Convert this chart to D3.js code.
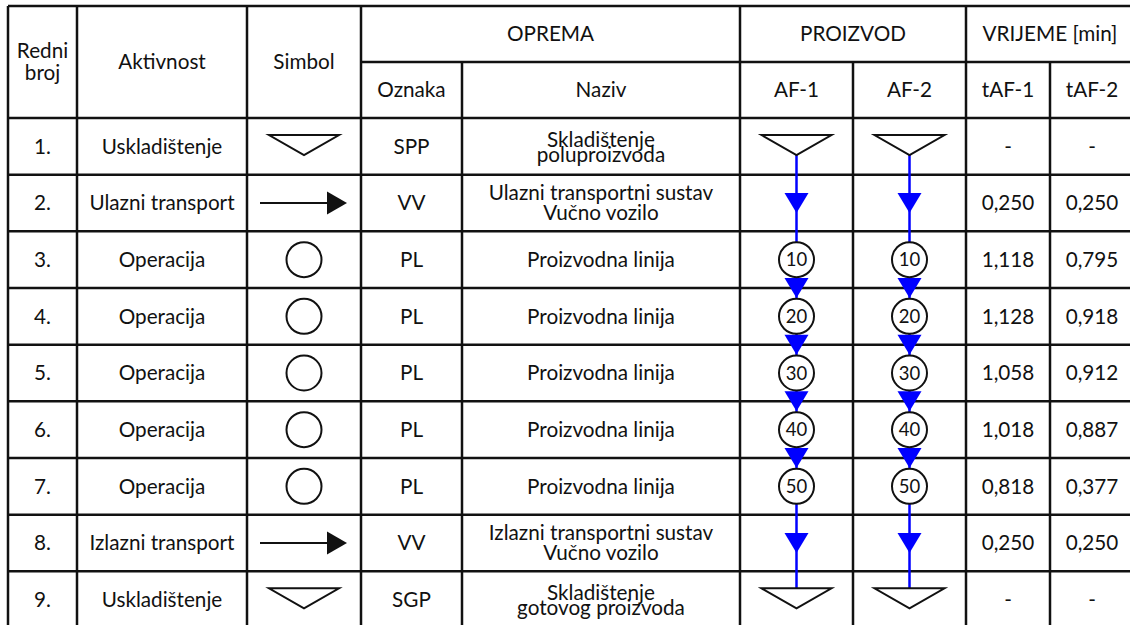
<!DOCTYPE html>
<html><head><meta charset="utf-8">
<script src="https://cdn.jsdelivr.net/npm/d3@7"></script>
<style>html,body{margin:0;padding:0;background:#fff;} svg{display:block;}</style>
</head><body>
<svg id="c" width="1130" height="625"></svg>
<script>
// ---- data ----
const rowNumbers = ["1.","2.","3.","4.","5.","6.","7.","8.","9."];
const activities = ["Uskladištenje","Ulazni transport","Operacija","Operacija","Operacija","Operacija","Operacija","Izlazni transport","Uskladištenje"];
const symbols = ["storage","transport","operation","operation","operation","operation","operation","transport","storage"];
const codes = ["SPP","VV","PL","PL","PL","PL","PL","VV","SGP"];
const names = [["Skladištenje","poluproizvoda"],["Ulazni transportni sustav","Vučno vozilo"],["Proizvodna linija"],["Proizvodna linija"],["Proizvodna linija"],["Proizvodna linija"],["Proizvodna linija"],["Izlazni transportni sustav","Vučno vozilo"],["Skladištenje","gotovog proizvoda"]];
const operationsAF1 = ["","","10","20","30","40","50","",""];
const operationsAF2 = ["","","10","20","30","40","50","",""];
const timeAF1 = ["-","0,250","1,118","1,128","1,058","1,018","0,818","0,250","-"];
const timeAF2 = ["-","0,250","0,795","0,918","0,912","0,887","0,377","0,250","-"];
const headerTop = ["Redni broj","Aktivnost","Simbol","OPREMA","PROIZVOD","VRIJEME [min]"];
const headerSub = ["Oznaka","Naziv","AF-1","AF-2","tAF-1","tAF-2"];

// ---- layout ----
const svg = d3.select("#c");
const FONT = "Lato, 'Noto Sans', sans-serif";
const FS = 20.7;
const TXT = "#111";
const LINE = "#111";
const BLUE = "#0000ff";
const colEdges = [8, 77, 247, 361, 462, 740, 853, 966, 1050, 1140];
const cx = i => (colEdges[i] + colEdges[i+1]) / 2;
const y = d3.scaleLinear().domain([0, 9]).range([118, 628]);
const yc = i => (y(i) + y(i+1)) / 2;
const hTop = 6, hMid = 62, hBot = 118;
const CAP = 7.4; // half cap height shift

const gLines = svg.append("g").attr("stroke", LINE).attr("stroke-width", 2.5).attr("fill", "none");
gLines.append("line").attr("x1", colEdges[0]).attr("x2", 1140).attr("y1", hTop).attr("y2", hTop);
gLines.append("line").attr("x1", colEdges[3]).attr("x2", 1140).attr("y1", hMid).attr("y2", hMid);
d3.range(0, 9).forEach(i => {
  gLines.append("line").attr("x1", colEdges[0]).attr("x2", 1140).attr("y1", y(i)).attr("y2", y(i));
});
const fullCols = [0,1,2,3,5,7];
colEdges.slice(0, 9).forEach((x, i) => {
  const top = fullCols.includes(i) ? hTop : hMid;
  gLines.append("line").attr("x1", x).attr("x2", x).attr("y1", top).attr("y2", 630);
});

const gT = svg.append("g").attr("font-family", FONT).attr("font-size", FS).attr("fill", TXT).attr("text-anchor", "middle");
function txt(x, yy, s) {
  gT.append("text").attr("x", x).attr("y", yy + CAP).text(s);
}
// header
txt(cx(0), 51, "Redni"); txt(cx(0), 73, "broj");
txt(cx(1), 62, headerTop[1]);
txt(cx(2), 62, headerTop[2]);
txt((colEdges[3]+colEdges[5])/2, 34, headerTop[3]);
txt((colEdges[5]+colEdges[7])/2, 34, headerTop[4]);
txt(1050, 34, headerTop[5]);
headerSub.forEach((s, k) => txt(cx(3+k) + (k === 5 ? -3 : 0), 90, s));

// body text
rowNumbers.forEach((s, i) => txt(cx(0), yc(i), s));
activities.forEach((s, i) => txt(cx(1), yc(i), s));
codes.forEach((s, i) => txt(cx(3), yc(i), s));
names.forEach((arr, i) => {
  if (arr.length === 1) txt(cx(4), yc(i), arr[0]);
  else {
    const d = symbols[i] === "storage" ? 7.5 : 10;
    const off = symbols[i] === "storage" ? 0.5 : 0;
    txt(cx(4), yc(i) - d + off, arr[0]);
    txt(cx(4), yc(i) + d + off, arr[1]);
  }
});
timeAF1.forEach((s, i) => txt(cx(7), yc(i), s));
timeAF2.forEach((s, i) => txt(cx(8) - 3, yc(i), s));

// symbol column
const gS = svg.append("g");
function storage(g, x, rowTop) {
  g.append("path").attr("d", `M${x-35},${rowTop+17}L${x+35},${rowTop+17}L${x},${rowTop+37}Z`)
    .attr("fill", "#fff").attr("stroke", LINE).attr("stroke-width", 2);
}
symbols.forEach((s, i) => {
  const x = cx(2), c = yc(i);
  if (s === "storage") storage(gS, x, y(i));
  else if (s === "transport") {
    gS.append("line").attr("x1", x-44).attr("x2", x+25).attr("y1", c).attr("y2", c).attr("stroke", LINE).attr("stroke-width", 2);
    gS.append("path").attr("d", `M${x+23},${c-11.5}L${x+43},${c}L${x+23},${c+11.5}Z`).attr("fill", LINE);
  } else {
    gS.append("circle").attr("cx", x).attr("cy", c).attr("r", 17.5).attr("fill", "none").attr("stroke", LINE).attr("stroke-width", 2);
  }
});

// product flow columns
function flow(colIdx, ops) {
  const g = svg.append("g");
  const x = cx(colIdx);
  const first = 0, last = symbols.length - 1;
  g.append("line").attr("x1", x).attr("x2", x).attr("y1", y(first) + 37).attr("y2", y(last) + 17)
    .attr("stroke", BLUE).attr("stroke-width", 2.5);
  function head(cy) {
    g.append("path").attr("d", `M${x-12},${cy-10}L${x+12},${cy-10}L${x},${cy+10}Z`).attr("fill", BLUE);
  }
  symbols.forEach((s, i) => {
    if (s === "transport") head(yc(i));
    if (s === "operation" && i > 0 && symbols[i-1] === "operation") head(y(i));
  });
  symbols.forEach((s, i) => {
    if (s === "storage") storage(g, x, y(i));
    if (s === "operation") {
      g.append("circle").attr("cx", x).attr("cy", yc(i)).attr("r", 17.5).attr("fill", "#fff").attr("stroke", LINE).attr("stroke-width", 2);
      g.append("text").attr("x", x).attr("y", yc(i) + 6.7).attr("text-anchor", "middle")
        .attr("font-family", FONT).attr("font-size", 18.5).attr("fill", TXT).text(ops[i]);
    }
  });
}
flow(5, operationsAF1);
flow(6, operationsAF2);
</script>
</body></html>
